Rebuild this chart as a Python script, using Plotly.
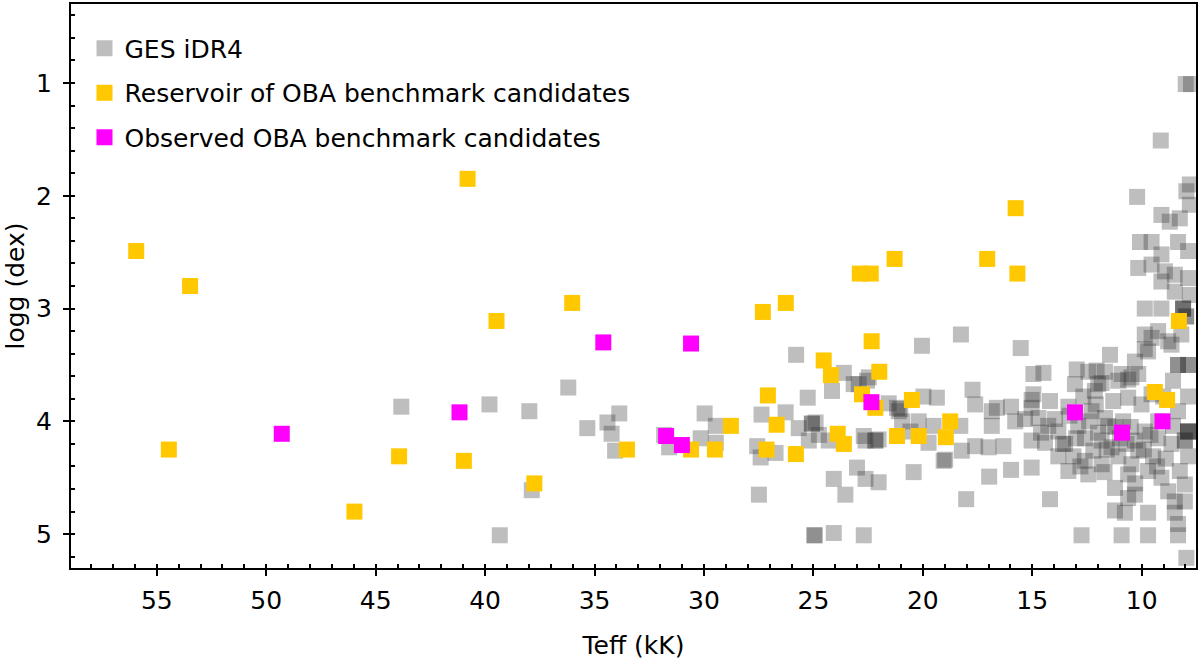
import plotly.graph_objects as go

# GES iDR4 (grey)
ges_teff = [43.83, 39.80, 37.98, 36.20, 37.87, 39.33, 35.33, 34.41, 34.22, 34.06, 33.87, 31.82, 31.59,
            29.97, 29.46, 30.15, 29.46, 25.79, 25.26, 27.37, 26.27, 27.57, 27.41, 26.73, 25.67, 24.90,
            24.75, 25.21, 24.15, 24.07, 27.49, 24.95, 24.95, 24.07, 23.61, 22.93, 22.47, 21.18, 20.04,
            19.97, 19.36, 23.01, 23.54, 22.02, 20.42, 19.05, 22.70, 22.17, 22.17, 22.62, 25.07, 25.07,
            21.10, 18.26, 15.53, 23.16, 22.55, 21.56, 21.03, 20.95, 20.19, 19.51, 18.29, 17.73, 17.61,
            16.85, 15.97, 16.85, 15.78, 22.70, 22.02, 20.57, 19.74, 18.98, 18.22, 17.61, 17.00, 16.32,
            24.30, 22.62, 16.97, 15.97, 18.02, 16.62, 14.95, 15.03, 14.19, 13.05, 12.14, 11.83, 10.62,
            10.16, 11.45, 7.99, 7.75, 9.13, 10.21, 7.80, 7.96, 7.80, 9.10, 8.72, 8.26, 10.08, 9.55,
            8.34, 7.88, 9.10, 10.16, 9.55, 8.94, 8.49, 7.88, 9.10, 8.49, 7.80, 9.86, 9.10, 8.11, 8.11,
            8.11, 7.97, 7.97, 9.86, 9.25, 8.79, 8.19, 8.34, 8.34, 9.71, 10.31, 10.92, 11.68, 12.44,
            12.97, 14.49, 14.95, 12.06, 9.86, 9.55, 8.64, 7.88, 7.88, 15.03, 11.99, 11.07, 10.47, 15.33,
            14.72, 13.96, 12.29, 11.68, 10.62, 10.01, 9.55, 8.34, 7.88, 7.88, 7.88, 7.88, 8.03, 8.03,
            15.03, 14.42, 13.50, 12.59, 11.83, 11.38, 10.31, 9.86, 9.25, 8.64, 15.03, 13.35, 12.44,
            11.83, 11.22, 10.62, 10.47, 9.71, 9.10, 8.79, 8.03, 10.31, 8.49, 14.19, 11.22, 10.77, 9.71,
            8.49, 8.03, 12.75, 10.92, 9.71, 8.34, 7.96, 8.34, 10.62, 13.81, 13.12, 12.21, 12.90, 11.07,
            11.53, 10.85, 10.16, 9.48, 13.81, 14.27, 13.35, 12.67, 11.30, 9.25, 8.57, 9.02, 8.57, 7.88,
            8.26, 7.88, 12.00, 11.00, 12.60, 10.50, 13.00, 11.70, 9.90, 9.30,
            12.40, 11.60, 10.70, 13.60, 12.80, 11.20, 9.60, 10.30, 8.90, 14.60, 13.30, 12.10]
ges_logg = [3.87, 3.85, 3.91, 3.70, 4.61, 5.01, 4.06, 4.01, 4.11, 4.26, 3.93, 4.12, 4.23,
            3.93, 4.04, 4.15, 4.19, 3.41, 3.79, 3.94, 3.92, 4.22, 4.32, 4.28, 4.06, 4.01,
            4.12, 4.17, 3.73, 4.51, 4.65, 5.01, 5.01, 4.99, 3.57, 3.67, 3.61, 3.88, 3.33,
            3.78, 3.79, 4.41, 4.65, 4.54, 4.45, 4.35, 5.01, 4.17, 4.17, 4.17, 4.02, 4.02,
            3.91, 3.23, 3.35, 3.67, 3.64, 3.84, 3.89, 4.00, 4.00, 4.04, 4.04, 3.72, 3.85,
            3.91, 3.87, 4.04, 4.00, 4.13, 4.16, 4.09, 4.19, 4.34, 4.26, 4.22, 4.23, 4.22,
            4.17, 4.51, 4.49, 4.43, 4.69, 3.88, 3.76, 3.88, 3.82, 3.67, 3.73, 3.66, 3.63,
            3.58, 3.41, 1.01, 1.01, 1.51, 2.01, 1.90, 1.96, 2.08, 2.17, 2.23, 2.20, 2.41, 2.41,
            2.41, 2.49, 2.52, 2.64, 2.61, 2.67, 2.70, 2.73, 2.76, 2.85, 2.88, 3.00, 3.00, 3.00, 3.00,
            3.00, 3.07, 3.07, 3.23, 3.20, 3.29, 3.23, 3.50, 3.50, 3.38, 3.47, 3.58, 3.56, 3.56,
            3.54, 3.57, 3.58, 3.55, 3.36, 3.26, 3.32, 3.50, 3.50, 3.81, 3.67, 3.64, 3.61, 3.98,
            3.97, 3.98, 3.91, 3.97, 3.79, 3.85, 3.76, 3.91, 4.09, 4.09, 4.09, 4.09, 4.17, 4.17,
            4.17, 4.19, 4.20, 4.15, 4.17, 4.23, 4.17, 4.09, 4.15, 4.20, 4.41, 4.44, 4.47,
            4.38, 4.59, 4.47, 4.38, 4.44, 4.50, 4.62, 4.56, 4.65, 4.71, 4.69, 4.79, 4.81, 4.81,
            4.81, 4.71, 5.01, 5.01, 5.01, 5.01, 5.21, 4.91, 4.68, 4.09, 4.31, 4.26, 4.04, 4.31,
            4.04, 4.00, 4.26, 4.31, 4.31, 4.04, 3.87, 3.78, 3.82, 4.00, 4.04, 3.78, 3.64, 3.78,
            4.44, 4.31, 4.10, 4.15, 4.35, 4.05, 4.15, 4.45, 4.25, 4.40,
            4.00, 4.25, 4.20, 4.20, 4.40, 4.05, 4.12, 4.55, 4.33, 4.10, 3.95, 3.85]

# Reservoir of OBA benchmark candidates (yellow)
res_teff = [55.94, 53.48, 54.45, 45.97, 43.93, 40.97, 40.80, 39.48, 37.75, 36.02, 33.52, 30.59,
            29.50, 28.77, 27.31, 26.26, 22.88, 22.38, 21.29, 17.06, 15.76, 15.68, 22.34, 27.08,
            26.68, 27.14, 25.80, 24.53, 24.20, 21.99, 22.78, 22.17, 20.50, 21.18, 20.19, 18.75,
            18.95, 23.89, 23.61, 8.30, 9.40, 8.84]
res_logg = [2.49, 2.80, 4.25, 4.80, 4.31, 4.35, 1.85, 3.11, 4.55, 2.95, 4.25, 4.25,
            4.25, 4.04, 3.03, 2.95, 2.69, 2.69, 2.56, 2.56, 2.11, 2.69, 3.29, 3.77,
            4.03, 4.25, 4.29, 3.46, 3.59, 3.56, 3.76, 3.88, 3.81, 4.13, 4.13, 4.00,
            4.14, 4.11, 4.20, 3.11, 3.74, 3.81]

# Observed OBA benchmark candidates (magenta)
obs_teff = [49.29, 41.17, 34.60, 30.59, 31.73, 31.01, 22.35, 13.05, 10.90, 9.05]
obs_logg = [4.11, 3.92, 3.30, 3.31, 4.13, 4.21, 3.83, 3.92, 4.10, 4.00]

x_ticks = [55, 50, 45, 40, 35, 30, 25, 20, 15, 10]
y_ticks = [1, 2, 3, 4, 5]

FONT = "DejaVu Sans"
FS = 25

fig = go.Figure()
fig.add_trace(go.Scatter(
    x=ges_teff, y=ges_logg, mode="markers", name="GES iDR4", legendgroup="g1",
    marker=dict(symbol="square", size=16, color="rgb(40,40,40)", opacity=0.3, line=dict(width=0)),
))
fig.add_trace(go.Scatter(
    x=res_teff, y=res_logg, mode="markers", name="Reservoir of OBA benchmark candidates",
    legendgroup="g2",
    marker=dict(symbol="square", size=16, color="#FFC800", line=dict(width=0)),
))
fig.add_trace(go.Scatter(
    x=obs_teff, y=obs_logg, mode="markers", name="Observed OBA benchmark candidates",
    legendgroup="g3",
    marker=dict(symbol="square", size=16, color="#FF00FF", line=dict(width=0)),
))

axis_common = dict(
    showline=True, linecolor="black", linewidth=2, mirror=True,
    showgrid=False, zeroline=False,
    ticks="outside", ticklen=6, tickwidth=2, tickcolor="black",
    tickfont=dict(family=FONT, size=FS, color="black"),
)

fig.update_layout(
    width=1200, height=663,
    margin=dict(l=71, r=2, t=2, b=95),
    paper_bgcolor="white", plot_bgcolor="white",
    font=dict(family=FONT, size=FS, color="black"),
    showlegend=True,
    legend=dict(
        x=0.012, y=0.962, xanchor="left", yanchor="top",
        bgcolor="rgba(0,0,0,0)", borderwidth=0,
        font=dict(family=FONT, size=FS, color="black"),
        tracegroupgap=9, traceorder="grouped",
    ),
    xaxis=dict(
        range=[58.92, 7.52], tickmode="array", tickvals=x_ticks,
        ticktext=[str(v) for v in x_ticks],
        minor=dict(ticks="inside", ticklen=4, tickwidth=1.5, tickcolor="black", dtick=1, showgrid=False),
        title=dict(text="Teff (kK)", font=dict(family=FONT, size=FS, color="black"), standoff=22),
        ticklabelstandoff=3,
        **axis_common,
    ),
    yaxis=dict(
        range=[5.30, 0.30], tickmode="array", tickvals=y_ticks,
        ticktext=[str(v) for v in y_ticks],
        minor=dict(ticks="inside", ticklen=4, tickwidth=1.5, tickcolor="black", dtick=0.2, showgrid=False),
        title=dict(text="logg (dex)", font=dict(family=FONT, size=FS, color="black"), standoff=4),
        ticklabelstandoff=6,
        **axis_common,
    ),
)

fig.write_html("out.html")
